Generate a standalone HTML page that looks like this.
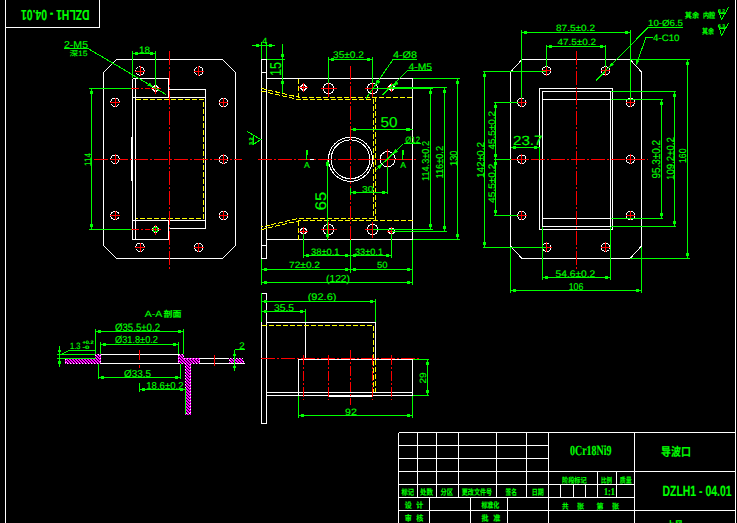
<!DOCTYPE html>
<html><head><meta charset="utf-8"><title>DZLH1-04.01</title>
<style>
html,body{margin:0;padding:0;background:#000;overflow:hidden}
svg{display:block}
text{font-family:"Liberation Sans","Noto Sans CJK SC",sans-serif;stroke:#00ff00;stroke-width:0.12px;text-rendering:geometricPrecision}
</style></head><body>
<svg width="737" height="523" viewBox="0 0 737 523" shape-rendering="crispEdges">
<defs><pattern id="hat" width="3" height="3" patternUnits="userSpaceOnUse"><rect width="3" height="3" fill="#ff00ff"/><path d="M0,0 L3,3 M-1,2 L1,4 M2,-1 L4,1" stroke="#000" stroke-width="0.9"/></pattern></defs>
<rect width="737" height="523" fill="#000"/>
<line x1="5.5" y1="0" x2="5.5" y2="523" stroke="#ffffff" stroke-width="1"/>
<line x1="5.5" y1="27.5" x2="99.5" y2="27.5" stroke="#ffffff" stroke-width="1"/>
<line x1="99.5" y1="0" x2="99.5" y2="27.5" stroke="#ffffff" stroke-width="1"/>
<line x1="735.5" y1="0" x2="735.5" y2="523" stroke="#ffffff" stroke-width="1"/>
<text x="0" y="0" transform="translate(89.5,9.8) rotate(180)" font-size="14.5" fill="#00ff00" textLength="68.5" lengthAdjust="spacingAndGlyphs" font-weight="bold">DZLH1 - 04.01</text>
<polygon points="116.5,59.5 222.5,59.5 235.5,72.5 235.5,245.5 222.5,258.5 116.5,258.5 103.5,245.5 103.5,72.5" fill="none" stroke="#ffffff" stroke-width="1"/>
<circle cx="140" cy="71" r="4.2" fill="none" stroke="#ffffff" stroke-width="1"/>
<line x1="135.2" y1="71" x2="144.8" y2="71" stroke="#ff0000" stroke-width="1"/>
<line x1="140" y1="66.2" x2="140" y2="75.8" stroke="#ff0000" stroke-width="1"/>
<circle cx="198.7" cy="71" r="4.2" fill="none" stroke="#ffffff" stroke-width="1"/>
<line x1="193.89999999999998" y1="71" x2="203.5" y2="71" stroke="#ff0000" stroke-width="1"/>
<line x1="198.7" y1="66.2" x2="198.7" y2="75.8" stroke="#ff0000" stroke-width="1"/>
<circle cx="115" cy="102.3" r="4.2" fill="none" stroke="#ffffff" stroke-width="1"/>
<line x1="110.2" y1="102.3" x2="119.8" y2="102.3" stroke="#ff0000" stroke-width="1"/>
<line x1="115" y1="97.5" x2="115" y2="107.1" stroke="#ff0000" stroke-width="1"/>
<circle cx="223.5" cy="102.3" r="4.2" fill="none" stroke="#ffffff" stroke-width="1"/>
<line x1="218.7" y1="102.3" x2="228.3" y2="102.3" stroke="#ff0000" stroke-width="1"/>
<line x1="223.5" y1="97.5" x2="223.5" y2="107.1" stroke="#ff0000" stroke-width="1"/>
<circle cx="115" cy="159.2" r="4.2" fill="none" stroke="#ffffff" stroke-width="1"/>
<line x1="110.2" y1="159.2" x2="119.8" y2="159.2" stroke="#ff0000" stroke-width="1"/>
<line x1="115" y1="154.39999999999998" x2="115" y2="164.0" stroke="#ff0000" stroke-width="1"/>
<circle cx="223.5" cy="159.2" r="4.2" fill="none" stroke="#ffffff" stroke-width="1"/>
<line x1="218.7" y1="159.2" x2="228.3" y2="159.2" stroke="#ff0000" stroke-width="1"/>
<line x1="223.5" y1="154.39999999999998" x2="223.5" y2="164.0" stroke="#ff0000" stroke-width="1"/>
<circle cx="115" cy="215.5" r="4.2" fill="none" stroke="#ffffff" stroke-width="1"/>
<line x1="110.2" y1="215.5" x2="119.8" y2="215.5" stroke="#ff0000" stroke-width="1"/>
<line x1="115" y1="210.7" x2="115" y2="220.3" stroke="#ff0000" stroke-width="1"/>
<circle cx="223.5" cy="215.5" r="4.2" fill="none" stroke="#ffffff" stroke-width="1"/>
<line x1="218.7" y1="215.5" x2="228.3" y2="215.5" stroke="#ff0000" stroke-width="1"/>
<line x1="223.5" y1="210.7" x2="223.5" y2="220.3" stroke="#ff0000" stroke-width="1"/>
<circle cx="140" cy="247.3" r="4.2" fill="none" stroke="#ffffff" stroke-width="1"/>
<line x1="135.2" y1="247.3" x2="144.8" y2="247.3" stroke="#ff0000" stroke-width="1"/>
<line x1="140" y1="242.5" x2="140" y2="252.10000000000002" stroke="#ff0000" stroke-width="1"/>
<circle cx="198.7" cy="247.3" r="4.2" fill="none" stroke="#ffffff" stroke-width="1"/>
<line x1="193.89999999999998" y1="247.3" x2="203.5" y2="247.3" stroke="#ff0000" stroke-width="1"/>
<line x1="198.7" y1="242.5" x2="198.7" y2="252.10000000000002" stroke="#ff0000" stroke-width="1"/>
<polyline points="132.5,78.5 168.5,78.5 168.5,97.5" fill="none" stroke="#ffffff" stroke-width="1"/>
<line x1="132.5" y1="78.5" x2="132.5" y2="239.5" stroke="#ffffff" stroke-width="1"/>
<line x1="135.5" y1="78.5" x2="135.5" y2="239.5" stroke="#ffffff" stroke-width="1"/>
<line x1="132.5" y1="97.5" x2="205.5" y2="97.5" stroke="#ffffff" stroke-width="1"/>
<polyline points="168.5,89.5 205.5,89.5 205.5,228.5 168.5,228.5" fill="none" stroke="#ffffff" stroke-width="1"/>
<line x1="132.5" y1="220.5" x2="205.5" y2="220.5" stroke="#ffffff" stroke-width="1"/>
<polyline points="168.5,220.5 168.5,239.5 132.5,239.5" fill="none" stroke="#ffffff" stroke-width="1"/>
<line x1="131.5" y1="137" x2="131.5" y2="181" stroke="#ffffff" stroke-width="1"/>
<polyline points="136,99.5 203.5,99.5 203.5,218.5 136,218.5" fill="none" stroke="#ffff00" stroke-width="1" stroke-dasharray="5 2"/>
<circle cx="155.5" cy="88.5" r="2.8" fill="none" stroke="#ffffff" stroke-width="1"/>
<line x1="150.5" y1="88.5" x2="160.5" y2="88.5" stroke="#ff0000" stroke-width="1"/>
<line x1="155.5" y1="83.5" x2="155.5" y2="93.5" stroke="#ff0000" stroke-width="1"/>
<line x1="131" y1="88.5" x2="150" y2="88.5" stroke="#ff0000" stroke-width="1" stroke-dasharray="8 2 2 2"/>
<circle cx="155.5" cy="229.5" r="2.8" fill="none" stroke="#ffffff" stroke-width="1"/>
<line x1="150.5" y1="229.5" x2="160.5" y2="229.5" stroke="#ff0000" stroke-width="1"/>
<line x1="155.5" y1="224.5" x2="155.5" y2="234.5" stroke="#ff0000" stroke-width="1"/>
<line x1="131" y1="229.5" x2="150" y2="229.5" stroke="#ff0000" stroke-width="1" stroke-dasharray="8 2 2 2"/>
<circle cx="155.5" cy="229.5" r="2.2" fill="none" stroke="#00ff00" stroke-width="1"/>
<line x1="169.5" y1="51" x2="169.5" y2="269.5" stroke="#ff0000" stroke-width="1" stroke-dasharray="14 2 2 2"/>
<line x1="94" y1="159.5" x2="241.5" y2="159.5" stroke="#ff0000" stroke-width="1" stroke-dasharray="14 2 2 2"/>
<line x1="89" y1="88.5" x2="131" y2="88.5" stroke="#00ff00" stroke-width="1"/>
<line x1="89" y1="229.5" x2="131" y2="229.5" stroke="#00ff00" stroke-width="1"/>
<line x1="91.5" y1="88.5" x2="91.5" y2="229.5" stroke="#00ff00" stroke-width="1"/>
<rect x="90" y="91" width="3" height="3" fill="#00ff00" stroke="none"/>
<rect x="90" y="224" width="3" height="3" fill="#00ff00" stroke="none"/>
<text x="0" y="0" transform="translate(90.5,166) rotate(-90)" font-size="9.3" fill="#00ff00" textLength="13" lengthAdjust="spacingAndGlyphs">114</text>
<line x1="132.5" y1="51" x2="132.5" y2="78" stroke="#00ff00" stroke-width="1"/>
<line x1="155.5" y1="51" x2="155.5" y2="86" stroke="#00ff00" stroke-width="1"/>
<line x1="132.5" y1="53.5" x2="155.5" y2="53.5" stroke="#00ff00" stroke-width="1"/>
<rect x="135" y="52" width="3" height="3" fill="#00ff00" stroke="none"/>
<rect x="150" y="52" width="3" height="3" fill="#00ff00" stroke="none"/>
<text x="139" y="52.5" font-size="9.3" fill="#00ff00" textLength="11" lengthAdjust="spacingAndGlyphs">18</text>
<text x="64" y="48" font-size="10.0" fill="#00ff00" textLength="24" lengthAdjust="spacingAndGlyphs">2-M5</text>
<line x1="64" y1="48.5" x2="88" y2="48.5" stroke="#00ff00" stroke-width="1"/>
<text x="69.5" y="56" font-size="7.5" fill="#00ff00" textLength="18" lengthAdjust="spacingAndGlyphs" stroke-width="0.4">深15</text>
<line x1="88" y1="48.5" x2="166" y2="94.5" stroke="#00ff00" stroke-width="1"/>
<polygon points="153.0,86.8 147.9,85.6 149.5,82.9" fill="#00ff00" stroke="#00ff00" stroke-width="0.6"/>
<polygon points="261.5,59.5 266.5,59.5 266.5,258.5 261.5,258.5" fill="none" stroke="#ffffff" stroke-width="1"/>
<line x1="261.5" y1="72.5" x2="266.5" y2="72.5" stroke="#ffffff" stroke-width="1"/>
<line x1="261.5" y1="245.5" x2="266.5" y2="245.5" stroke="#ffffff" stroke-width="1"/>
<polyline points="266.5,78.5 412.5,78.5 412.5,239.5 266.5,239.5" fill="none" stroke="#ffffff" stroke-width="1"/>
<circle cx="328.5" cy="88.5" r="5.2" fill="none" stroke="#ffffff" stroke-width="1"/>
<line x1="320.5" y1="88.5" x2="336.5" y2="88.5" stroke="#ff0000" stroke-width="1"/>
<line x1="328.5" y1="80.5" x2="328.5" y2="96.5" stroke="#ff0000" stroke-width="1"/>
<circle cx="372.5" cy="88.5" r="5.2" fill="none" stroke="#ffffff" stroke-width="1"/>
<line x1="364.5" y1="88.5" x2="380.5" y2="88.5" stroke="#ff0000" stroke-width="1"/>
<line x1="372.5" y1="80.5" x2="372.5" y2="96.5" stroke="#ff0000" stroke-width="1"/>
<circle cx="328.5" cy="229.5" r="5.2" fill="none" stroke="#ffffff" stroke-width="1"/>
<line x1="320.5" y1="229.5" x2="336.5" y2="229.5" stroke="#ff0000" stroke-width="1"/>
<line x1="328.5" y1="221.5" x2="328.5" y2="237.5" stroke="#ff0000" stroke-width="1"/>
<circle cx="372.5" cy="229.5" r="5.2" fill="none" stroke="#ffffff" stroke-width="1"/>
<line x1="364.5" y1="229.5" x2="380.5" y2="229.5" stroke="#ff0000" stroke-width="1"/>
<line x1="372.5" y1="221.5" x2="372.5" y2="237.5" stroke="#ff0000" stroke-width="1"/>
<circle cx="303.5" cy="87.5" r="2.8" fill="none" stroke="#ffffff" stroke-width="1"/>
<line x1="299.0" y1="87.5" x2="308.0" y2="87.5" stroke="#ff0000" stroke-width="1"/>
<line x1="303.5" y1="83.0" x2="303.5" y2="92.0" stroke="#ff0000" stroke-width="1"/>
<circle cx="391.5" cy="87.5" r="2.8" fill="none" stroke="#ffffff" stroke-width="1"/>
<line x1="387.0" y1="87.5" x2="396.0" y2="87.5" stroke="#ff0000" stroke-width="1"/>
<line x1="391.5" y1="83.0" x2="391.5" y2="92.0" stroke="#ff0000" stroke-width="1"/>
<circle cx="303.5" cy="231" r="2.8" fill="none" stroke="#ffffff" stroke-width="1"/>
<line x1="299.0" y1="231" x2="308.0" y2="231" stroke="#ff0000" stroke-width="1"/>
<line x1="303.5" y1="226.5" x2="303.5" y2="235.5" stroke="#ff0000" stroke-width="1"/>
<circle cx="391.5" cy="231" r="2.8" fill="none" stroke="#ffffff" stroke-width="1"/>
<line x1="387.0" y1="231" x2="396.0" y2="231" stroke="#ff0000" stroke-width="1"/>
<line x1="391.5" y1="226.5" x2="391.5" y2="235.5" stroke="#ff0000" stroke-width="1"/>
<path d="M261.5,88.5 Q285,94 299,97.3 L412.5,97.3" fill="none" stroke="#ffff00" stroke-width="1" stroke-dasharray="5 2"/>
<path d="M261.5,91 Q285,96.5 299,99.7 L373.3,99.7 L373.3,218.3 L299,218.3 Q285,221.5 261.5,227" fill="none" stroke="#ffff00" stroke-width="1" stroke-dasharray="5 2"/>
<path d="M261.5,229.5 Q285,224 299,220.8 L412.5,220.8" fill="none" stroke="#ffff00" stroke-width="1" stroke-dasharray="5 2"/>
<line x1="375.8" y1="97.3" x2="375.8" y2="220.8" stroke="#ffff00" stroke-width="1" stroke-dasharray="5 2"/>
<line x1="298.5" y1="78.5" x2="298.5" y2="97" stroke="#ffff00" stroke-width="1" stroke-dasharray="5 2"/>
<line x1="298.5" y1="220.5" x2="298.5" y2="239.5" stroke="#ffff00" stroke-width="1" stroke-dasharray="5 2"/>
<circle cx="350.5" cy="159.3" r="22" fill="none" stroke="#ffffff" stroke-width="1"/>
<circle cx="350.5" cy="159.3" r="19.4" fill="none" stroke="#ffffff" stroke-width="1"/>
<circle cx="387.6" cy="159.2" r="7.6" fill="none" stroke="#ffffff" stroke-width="1"/>
<line x1="377" y1="159.5" x2="398" y2="159.5" stroke="#ff0000" stroke-width="1"/>
<line x1="387.5" y1="149" x2="387.5" y2="170" stroke="#ff0000" stroke-width="1"/>
<line x1="258" y1="159.5" x2="417" y2="159.5" stroke="#ff0000" stroke-width="1" stroke-dasharray="14 2 2 2"/>
<line x1="350.5" y1="66" x2="350.5" y2="262" stroke="#ff0000" stroke-width="1" stroke-dasharray="14 2 2 2"/>
<line x1="306.5" y1="150.5" x2="306.5" y2="159.5" stroke="#00ff00" stroke-width="1"/>
<rect x="306" y="150" width="2" height="5" fill="#00ff00" stroke="none"/>
<text x="304" y="167.6" font-size="8.7" fill="#00ff00">A</text>
<line x1="309.5" y1="159.5" x2="313.5" y2="159.5" stroke="#ffffff" stroke-width="1"/>
<line x1="402.5" y1="150.5" x2="402.5" y2="159.5" stroke="#00ff00" stroke-width="1"/>
<rect x="402" y="150" width="2" height="5" fill="#00ff00" stroke="none"/>
<text x="400.3" y="167.6" font-size="8.7" fill="#00ff00">A</text>
<line x1="252" y1="45.5" x2="275" y2="45.5" stroke="#00ff00" stroke-width="1"/>
<line x1="261.5" y1="41.5" x2="261.5" y2="59" stroke="#00ff00" stroke-width="1"/>
<line x1="266.5" y1="41.5" x2="266.5" y2="59" stroke="#00ff00" stroke-width="1"/>
<rect x="256" y="44" width="3" height="3" fill="#00ff00" stroke="none"/>
<rect x="269" y="44" width="3" height="3" fill="#00ff00" stroke="none"/>
<text x="262.2" y="44.2" font-size="8.9" fill="#00ff00">4</text>
<line x1="282.5" y1="43.5" x2="282.5" y2="93" stroke="#00ff00" stroke-width="1"/>
<line x1="267" y1="59.5" x2="285" y2="59.5" stroke="#00ff00" stroke-width="1"/>
<rect x="281" y="54" width="3" height="3" fill="#00ff00" stroke="none"/>
<rect x="281" y="81" width="3" height="3" fill="#00ff00" stroke="none"/>
<text x="0" y="0" transform="translate(281,76) rotate(-90)" font-size="15.7" fill="#00ff00" textLength="14" lengthAdjust="spacingAndGlyphs">15</text>
<line x1="328.5" y1="57" x2="328.5" y2="83" stroke="#00ff00" stroke-width="1"/>
<line x1="372.5" y1="57" x2="372.5" y2="83" stroke="#00ff00" stroke-width="1"/>
<line x1="328.5" y1="59.5" x2="372.5" y2="59.5" stroke="#00ff00" stroke-width="1"/>
<rect x="331" y="58" width="3" height="3" fill="#00ff00" stroke="none"/>
<rect x="367" y="58" width="3" height="3" fill="#00ff00" stroke="none"/>
<text x="333" y="58" font-size="9.7" fill="#00ff00" textLength="31" lengthAdjust="spacingAndGlyphs">35±0.2</text>
<text x="393" y="58" font-size="9.7" fill="#00ff00" textLength="24" lengthAdjust="spacingAndGlyphs">4-Ø8</text>
<line x1="393" y1="59.5" x2="417" y2="59.5" stroke="#00ff00" stroke-width="1"/>
<line x1="393" y1="59.5" x2="366" y2="98.5" stroke="#00ff00" stroke-width="1"/>
<polygon points="375.5,84.8 377.0,79.8 379.7,81.6" fill="#00ff00" stroke="#00ff00" stroke-width="0.6"/>
<text x="408.5" y="69.5" font-size="9.3" fill="#00ff00" textLength="23.5" lengthAdjust="spacingAndGlyphs">4-M5</text>
<line x1="407.5" y1="70.5" x2="432" y2="70.5" stroke="#00ff00" stroke-width="1"/>
<line x1="407.5" y1="70.5" x2="382.5" y2="95" stroke="#00ff00" stroke-width="1"/>
<polygon points="393.5,85.6 396.0,81.0 398.2,83.3" fill="#00ff00" stroke="#00ff00" stroke-width="0.6"/>
<text x="380.5" y="127.4" font-size="14.3" fill="#00ff00" textLength="17.0" lengthAdjust="spacingAndGlyphs">50</text>
<line x1="350.5" y1="129.5" x2="412.5" y2="129.5" stroke="#00ff00" stroke-width="1"/>
<rect x="353" y="128" width="3" height="3" fill="#00ff00" stroke="none"/>
<rect x="406" y="128" width="4" height="3" fill="#00ff00" stroke="none"/>
<line x1="376.5" y1="169.5" x2="403.5" y2="143.5" stroke="#00ff00" stroke-width="1"/>
<line x1="403.5" y1="143.5" x2="420.5" y2="143.5" stroke="#00ff00" stroke-width="1"/>
<text x="405.3" y="142.6" font-size="9.1" fill="#00ff00" textLength="14.7" lengthAdjust="spacingAndGlyphs">Ø12</text>
<polygon points="392.9,153.9 395.4,149.3 397.6,151.6" fill="#00ff00" stroke="#00ff00" stroke-width="0.6"/>
<polygon points="382.3,163.9 379.8,168.5 377.6,166.2" fill="#00ff00" stroke="#00ff00" stroke-width="0.6"/>
<line x1="327.5" y1="159.5" x2="327.5" y2="239.5" stroke="#00ff00" stroke-width="1"/>
<rect x="326" y="162" width="3" height="4" fill="#00ff00" stroke="none"/>
<rect x="326" y="234" width="3" height="3" fill="#00ff00" stroke="none"/>
<text x="0" y="0" transform="translate(326,210.2) rotate(-90)" font-size="15.3" fill="#00ff00" textLength="18.2" lengthAdjust="spacingAndGlyphs">65</text>
<line x1="350.5" y1="192.5" x2="387.5" y2="192.5" stroke="#00ff00" stroke-width="1"/>
<line x1="387.5" y1="167" x2="387.5" y2="194" stroke="#00ff00" stroke-width="1"/>
<line x1="350.5" y1="187.5" x2="350.5" y2="195" stroke="#00ff00" stroke-width="1"/>
<rect x="353" y="191" width="3" height="3" fill="#00ff00" stroke="none"/>
<rect x="382" y="191" width="3" height="3" fill="#00ff00" stroke="none"/>
<text x="362" y="191.6" font-size="8.6" fill="#00ff00" textLength="11.4" lengthAdjust="spacingAndGlyphs">30</text>
<line x1="372.5" y1="88.5" x2="432.5" y2="88.5" stroke="#00ff00" stroke-width="1"/>
<line x1="372.5" y1="229.5" x2="432.5" y2="229.5" stroke="#00ff00" stroke-width="1"/>
<line x1="430.5" y1="88.5" x2="430.5" y2="229.5" stroke="#00ff00" stroke-width="1"/>
<rect x="429" y="91" width="3" height="3" fill="#00ff00" stroke="none"/>
<rect x="429" y="224" width="3" height="3" fill="#00ff00" stroke="none"/>
<text x="0" y="0" transform="translate(429,181) rotate(-90)" font-size="10.0" fill="#00ff00" textLength="40" lengthAdjust="spacingAndGlyphs">114.3±0.2</text>
<line x1="391.5" y1="87.5" x2="447" y2="87.5" stroke="#00ff00" stroke-width="1"/>
<line x1="391.5" y1="231.5" x2="447" y2="231.5" stroke="#00ff00" stroke-width="1"/>
<line x1="444.5" y1="87.5" x2="444.5" y2="231.5" stroke="#00ff00" stroke-width="1"/>
<rect x="443" y="90" width="3" height="3" fill="#00ff00" stroke="none"/>
<rect x="443" y="226" width="3" height="3" fill="#00ff00" stroke="none"/>
<text x="0" y="0" transform="translate(443,178.5) rotate(-90)" font-size="10.0" fill="#00ff00" textLength="32.5" lengthAdjust="spacingAndGlyphs">116±0.2</text>
<line x1="413" y1="78.5" x2="460" y2="78.5" stroke="#00ff00" stroke-width="1"/>
<line x1="413" y1="239.5" x2="460" y2="239.5" stroke="#00ff00" stroke-width="1"/>
<line x1="457.5" y1="78.5" x2="457.5" y2="239.5" stroke="#00ff00" stroke-width="1"/>
<rect x="456" y="81" width="3" height="3" fill="#00ff00" stroke="none"/>
<rect x="456" y="234" width="3" height="3" fill="#00ff00" stroke="none"/>
<text x="0" y="0" transform="translate(457,166) rotate(-90)" font-size="10.0" fill="#00ff00" textLength="15.5" lengthAdjust="spacingAndGlyphs">130</text>
<line x1="303.5" y1="234" x2="303.5" y2="257.5" stroke="#00ff00" stroke-width="1"/>
<line x1="391.5" y1="234" x2="391.5" y2="257.5" stroke="#00ff00" stroke-width="1"/>
<line x1="350.5" y1="239.5" x2="350.5" y2="272.5" stroke="#00ff00" stroke-width="1"/>
<line x1="303.5" y1="255.5" x2="391.5" y2="255.5" stroke="#00ff00" stroke-width="1"/>
<rect x="306" y="254" width="3" height="3" fill="#00ff00" stroke="none"/>
<rect x="345" y="254" width="3" height="3" fill="#00ff00" stroke="none"/>
<rect x="353" y="254" width="3" height="3" fill="#00ff00" stroke="none"/>
<rect x="386" y="254" width="3" height="3" fill="#00ff00" stroke="none"/>
<text x="311" y="254.8" font-size="9.4" fill="#00ff00" textLength="28.5" lengthAdjust="spacingAndGlyphs">38±0.1</text>
<text x="355" y="254.8" font-size="9.4" fill="#00ff00" textLength="28" lengthAdjust="spacingAndGlyphs">33±0.1</text>
<line x1="261.5" y1="258.5" x2="261.5" y2="284.5" stroke="#00ff00" stroke-width="1"/>
<line x1="412.5" y1="239.5" x2="412.5" y2="284.5" stroke="#00ff00" stroke-width="1"/>
<line x1="261.5" y1="269.5" x2="412.5" y2="269.5" stroke="#00ff00" stroke-width="1"/>
<line x1="261.5" y1="282.5" x2="412.5" y2="282.5" stroke="#00ff00" stroke-width="1"/>
<rect x="264" y="268" width="3" height="3" fill="#00ff00" stroke="none"/>
<rect x="345" y="268" width="3" height="3" fill="#00ff00" stroke="none"/>
<rect x="353" y="268" width="3" height="3" fill="#00ff00" stroke="none"/>
<rect x="407" y="268" width="3" height="3" fill="#00ff00" stroke="none"/>
<rect x="264" y="281" width="3" height="3" fill="#00ff00" stroke="none"/>
<rect x="407" y="281" width="3" height="3" fill="#00ff00" stroke="none"/>
<text x="289" y="268.4" font-size="9.1" fill="#00ff00" textLength="31" lengthAdjust="spacingAndGlyphs">72±0.2</text>
<text x="377" y="268.4" font-size="9.1" fill="#00ff00" textLength="10.5" lengthAdjust="spacingAndGlyphs">50</text>
<text x="326" y="281.6" font-size="10.1" fill="#00ff00" textLength="24" lengthAdjust="spacingAndGlyphs">(122)</text>
<polyline points="247,131.5 261,139.5 254,144" fill="none" stroke="#00ff00" stroke-width="1"/>
<line x1="253.5" y1="134.5" x2="253.5" y2="144.5" stroke="#00ff00" stroke-width="1"/>
<text x="0" y="0" transform="translate(252.8,145) rotate(-90)" font-size="5.5" fill="#00ff00" font-weight="bold">3.2</text>
<polygon points="522.0,59.5 630.0,59.5 641.5,72.0 641.5,246.0 630.0,258.5 522.0,258.5 510.5,246.0 510.5,72.0" fill="none" stroke="#ffffff" stroke-width="1"/>
<circle cx="546.5" cy="70.8" r="4.2" fill="none" stroke="#ffffff" stroke-width="1"/>
<line x1="541.7" y1="70.8" x2="551.3" y2="70.8" stroke="#ff0000" stroke-width="1"/>
<line x1="546.5" y1="66.0" x2="546.5" y2="75.6" stroke="#ff0000" stroke-width="1"/>
<circle cx="605.5" cy="70.8" r="4.2" fill="none" stroke="#ffffff" stroke-width="1"/>
<line x1="600.7" y1="70.8" x2="610.3" y2="70.8" stroke="#ff0000" stroke-width="1"/>
<line x1="605.5" y1="66.0" x2="605.5" y2="75.6" stroke="#ff0000" stroke-width="1"/>
<circle cx="521.8" cy="102.3" r="4.2" fill="none" stroke="#ffffff" stroke-width="1"/>
<line x1="517.0" y1="102.3" x2="526.5999999999999" y2="102.3" stroke="#ff0000" stroke-width="1"/>
<line x1="521.8" y1="97.5" x2="521.8" y2="107.1" stroke="#ff0000" stroke-width="1"/>
<circle cx="630.4" cy="102.3" r="4.2" fill="none" stroke="#ffffff" stroke-width="1"/>
<line x1="625.6" y1="102.3" x2="635.1999999999999" y2="102.3" stroke="#ff0000" stroke-width="1"/>
<line x1="630.4" y1="97.5" x2="630.4" y2="107.1" stroke="#ff0000" stroke-width="1"/>
<circle cx="521.8" cy="159.2" r="4.2" fill="none" stroke="#ffffff" stroke-width="1"/>
<line x1="517.0" y1="159.2" x2="526.5999999999999" y2="159.2" stroke="#ff0000" stroke-width="1"/>
<line x1="521.8" y1="154.39999999999998" x2="521.8" y2="164.0" stroke="#ff0000" stroke-width="1"/>
<circle cx="630.4" cy="159.2" r="4.2" fill="none" stroke="#ffffff" stroke-width="1"/>
<line x1="625.6" y1="159.2" x2="635.1999999999999" y2="159.2" stroke="#ff0000" stroke-width="1"/>
<line x1="630.4" y1="154.39999999999998" x2="630.4" y2="164.0" stroke="#ff0000" stroke-width="1"/>
<circle cx="521.8" cy="215.5" r="4.2" fill="none" stroke="#ffffff" stroke-width="1"/>
<line x1="517.0" y1="215.5" x2="526.5999999999999" y2="215.5" stroke="#ff0000" stroke-width="1"/>
<line x1="521.8" y1="210.7" x2="521.8" y2="220.3" stroke="#ff0000" stroke-width="1"/>
<circle cx="630.4" cy="215.5" r="4.2" fill="none" stroke="#ffffff" stroke-width="1"/>
<line x1="625.6" y1="215.5" x2="635.1999999999999" y2="215.5" stroke="#ff0000" stroke-width="1"/>
<line x1="630.4" y1="210.7" x2="630.4" y2="220.3" stroke="#ff0000" stroke-width="1"/>
<circle cx="546.7" cy="247.2" r="4.2" fill="none" stroke="#ffffff" stroke-width="1"/>
<line x1="541.9000000000001" y1="247.2" x2="551.5" y2="247.2" stroke="#ff0000" stroke-width="1"/>
<line x1="546.7" y1="242.39999999999998" x2="546.7" y2="252.0" stroke="#ff0000" stroke-width="1"/>
<circle cx="605.5" cy="247.2" r="4.2" fill="none" stroke="#ffffff" stroke-width="1"/>
<line x1="600.7" y1="247.2" x2="610.3" y2="247.2" stroke="#ff0000" stroke-width="1"/>
<line x1="605.5" y1="242.39999999999998" x2="605.5" y2="252.0" stroke="#ff0000" stroke-width="1"/>
<polygon points="539.5,88.5 612.5,88.5 612.5,229.5 539.5,229.5" fill="none" stroke="#ffffff" stroke-width="1"/>
<polygon points="542.5,91.5 610.5,91.5 610.5,226.5 542.5,226.5" fill="none" stroke="#ffffff" stroke-width="1"/>
<line x1="542.5" y1="99.5" x2="610.5" y2="99.5" stroke="#ffffff" stroke-width="1"/>
<line x1="542.5" y1="218.5" x2="610.5" y2="218.5" stroke="#ffffff" stroke-width="1"/>
<line x1="576.5" y1="51" x2="576.5" y2="269.5" stroke="#ff0000" stroke-width="1" stroke-dasharray="14 2 2 2"/>
<line x1="510.5" y1="159.5" x2="648" y2="159.5" stroke="#ff0000" stroke-width="1" stroke-dasharray="14 2 2 2"/>
<line x1="521.5" y1="30" x2="521.5" y2="98" stroke="#00ff00" stroke-width="1"/>
<line x1="630.5" y1="30" x2="630.5" y2="98" stroke="#00ff00" stroke-width="1"/>
<line x1="521.5" y1="32.5" x2="630.5" y2="32.5" stroke="#00ff00" stroke-width="1"/>
<rect x="524" y="31" width="3" height="3" fill="#00ff00" stroke="none"/>
<rect x="625" y="31" width="3" height="3" fill="#00ff00" stroke="none"/>
<text x="556" y="31.4" font-size="9.1" fill="#00ff00" textLength="39" lengthAdjust="spacingAndGlyphs">87.5±0.2</text>
<line x1="546.5" y1="44.5" x2="546.5" y2="67" stroke="#00ff00" stroke-width="1"/>
<line x1="605.5" y1="44.5" x2="605.5" y2="67" stroke="#00ff00" stroke-width="1"/>
<line x1="546.5" y1="46.5" x2="605.5" y2="46.5" stroke="#00ff00" stroke-width="1"/>
<rect x="549" y="45" width="3" height="3" fill="#00ff00" stroke="none"/>
<rect x="600" y="45" width="3" height="3" fill="#00ff00" stroke="none"/>
<text x="557.5" y="45.4" font-size="9.1" fill="#00ff00" textLength="38.5" lengthAdjust="spacingAndGlyphs">47.5±0.2</text>
<text x="648" y="26.3" font-size="9.0" fill="#00ff00" textLength="35" lengthAdjust="spacingAndGlyphs">10-Ø6.5</text>
<line x1="648" y1="27.5" x2="683" y2="27.5" stroke="#00ff00" stroke-width="1"/>
<line x1="648" y1="27.5" x2="596" y2="80.5" stroke="#00ff00" stroke-width="1"/>
<polygon points="609.0,67.2 611.4,62.5 613.6,64.8" fill="#00ff00" stroke="#00ff00" stroke-width="0.6"/>
<text x="653" y="40.5" font-size="9.3" fill="#00ff00" textLength="26.5" lengthAdjust="spacingAndGlyphs">4-C10</text>
<line x1="646" y1="37.5" x2="653" y2="37.5" stroke="#00ff00" stroke-width="1"/>
<line x1="646" y1="37.5" x2="636" y2="65" stroke="#00ff00" stroke-width="1"/>
<polygon points="636.0,65.0 636.2,59.8 639.2,60.8" fill="#00ff00" stroke="#00ff00" stroke-width="0.6"/>
<line x1="483" y1="71.5" x2="546" y2="71.5" stroke="#00ff00" stroke-width="1"/>
<line x1="483" y1="247.5" x2="546" y2="247.5" stroke="#00ff00" stroke-width="1"/>
<line x1="484.5" y1="71.5" x2="484.5" y2="247.5" stroke="#00ff00" stroke-width="1"/>
<rect x="483" y="74" width="3" height="3" fill="#00ff00" stroke="none"/>
<rect x="483" y="242" width="3" height="3" fill="#00ff00" stroke="none"/>
<text x="0" y="0" transform="translate(484,178) rotate(-90)" font-size="10.0" fill="#00ff00" textLength="36" lengthAdjust="spacingAndGlyphs">142±0.2</text>
<line x1="493.5" y1="102.5" x2="517.5" y2="102.5" stroke="#00ff00" stroke-width="1"/>
<line x1="493.5" y1="159.5" x2="510.5" y2="159.5" stroke="#00ff00" stroke-width="1"/>
<line x1="493.5" y1="215.5" x2="517.5" y2="215.5" stroke="#00ff00" stroke-width="1"/>
<line x1="495.5" y1="102.5" x2="495.5" y2="215.5" stroke="#00ff00" stroke-width="1"/>
<rect x="494" y="105" width="3" height="3" fill="#00ff00" stroke="none"/>
<rect x="494" y="154" width="3" height="3" fill="#00ff00" stroke="none"/>
<rect x="494" y="162" width="3" height="3" fill="#00ff00" stroke="none"/>
<rect x="494" y="210" width="3" height="3" fill="#00ff00" stroke="none"/>
<text x="0" y="0" transform="translate(494.6,149.5) rotate(-90)" font-size="9.4" fill="#00ff00" textLength="38.5" lengthAdjust="spacingAndGlyphs">45.5±0.2</text>
<text x="0" y="0" transform="translate(494.6,203) rotate(-90)" font-size="9.4" fill="#00ff00" textLength="39.5" lengthAdjust="spacingAndGlyphs">45.5±0.2</text>
<line x1="510.5" y1="147.5" x2="539.5" y2="147.5" stroke="#00ff00" stroke-width="1"/>
<line x1="539.5" y1="147" x2="539.5" y2="159.5" stroke="#00ff00" stroke-width="1"/>
<rect x="513" y="146" width="3" height="3" fill="#00ff00" stroke="none"/>
<rect x="534" y="146" width="3" height="3" fill="#00ff00" stroke="none"/>
<text x="513" y="144.8" font-size="13.3" fill="#00ff00" textLength="29.5" lengthAdjust="spacingAndGlyphs">23.7</text>
<line x1="610.5" y1="99.5" x2="663" y2="99.5" stroke="#00ff00" stroke-width="1"/>
<line x1="610.5" y1="218.5" x2="663" y2="218.5" stroke="#00ff00" stroke-width="1"/>
<line x1="661.5" y1="99.5" x2="661.5" y2="218.5" stroke="#00ff00" stroke-width="1"/>
<rect x="660" y="102" width="3" height="3" fill="#00ff00" stroke="none"/>
<rect x="660" y="213" width="3" height="3" fill="#00ff00" stroke="none"/>
<text x="0" y="0" transform="translate(660,178.5) rotate(-90)" font-size="11.4" fill="#00ff00" textLength="38.5" lengthAdjust="spacingAndGlyphs">95.3±0.2</text>
<line x1="610.5" y1="91.5" x2="676" y2="91.5" stroke="#00ff00" stroke-width="1"/>
<line x1="610.5" y1="226.5" x2="676" y2="226.5" stroke="#00ff00" stroke-width="1"/>
<line x1="674.5" y1="91.5" x2="674.5" y2="226.5" stroke="#00ff00" stroke-width="1"/>
<rect x="673" y="94" width="3" height="3" fill="#00ff00" stroke="none"/>
<rect x="673" y="221" width="3" height="3" fill="#00ff00" stroke="none"/>
<text x="0" y="0" transform="translate(673.8,180) rotate(-90)" font-size="10.4" fill="#00ff00" textLength="43" lengthAdjust="spacingAndGlyphs">109.2±0.2</text>
<line x1="630" y1="59.5" x2="689.5" y2="59.5" stroke="#00ff00" stroke-width="1"/>
<line x1="630" y1="258.5" x2="689.5" y2="258.5" stroke="#00ff00" stroke-width="1"/>
<line x1="687.5" y1="59.5" x2="687.5" y2="258.5" stroke="#00ff00" stroke-width="1"/>
<rect x="686" y="62" width="3" height="3" fill="#00ff00" stroke="none"/>
<rect x="686" y="253" width="3" height="3" fill="#00ff00" stroke="none"/>
<text x="0" y="0" transform="translate(686,163) rotate(-90)" font-size="10.0" fill="#00ff00" textLength="14.5" lengthAdjust="spacingAndGlyphs">160</text>
<line x1="542.5" y1="226.5" x2="542.5" y2="279.5" stroke="#00ff00" stroke-width="1"/>
<line x1="610.5" y1="226.5" x2="610.5" y2="279.5" stroke="#00ff00" stroke-width="1"/>
<line x1="542.5" y1="277.5" x2="610.5" y2="277.5" stroke="#00ff00" stroke-width="1"/>
<rect x="545" y="276" width="3" height="3" fill="#00ff00" stroke="none"/>
<rect x="605" y="276" width="3" height="3" fill="#00ff00" stroke="none"/>
<text x="555.6" y="276.5" font-size="9.6" fill="#00ff00" textLength="39.7" lengthAdjust="spacingAndGlyphs">54.6±0.2</text>
<line x1="510.5" y1="247" x2="510.5" y2="292.5" stroke="#00ff00" stroke-width="1"/>
<line x1="641.5" y1="247" x2="641.5" y2="292.5" stroke="#00ff00" stroke-width="1"/>
<line x1="510.5" y1="290.5" x2="641.5" y2="290.5" stroke="#00ff00" stroke-width="1"/>
<rect x="513" y="289" width="3" height="3" fill="#00ff00" stroke="none"/>
<rect x="636" y="289" width="3" height="3" fill="#00ff00" stroke="none"/>
<text x="568.7" y="289.8" font-size="10.0" fill="#00ff00" textLength="14.6" lengthAdjust="spacingAndGlyphs">106</text>
<text x="684.8" y="18.3" font-size="7.5" fill="#00ff00" textLength="14.4" lengthAdjust="spacingAndGlyphs" font-weight="bold" stroke-width="0.4">其余</text>
<text x="702.9" y="18.3" font-size="7.5" fill="#00ff00" textLength="12.3" lengthAdjust="spacingAndGlyphs" font-weight="bold" stroke-width="0.4">内腔</text>
<polyline points="718.5,10 721.5,19.5 728.5,7.5" fill="none" stroke="#00ff00" stroke-width="1"/>
<line x1="718.5" y1="13.5" x2="725.5" y2="13.5" stroke="#00ff00" stroke-width="1"/>
<text x="718" y="12.8" font-size="5.5" fill="#00ff00" textLength="7" lengthAdjust="spacingAndGlyphs" font-weight="bold">3.2</text>
<text x="702" y="33.5" font-size="7.5" fill="#00ff00" textLength="12" lengthAdjust="spacingAndGlyphs" font-weight="bold" stroke-width="0.4">其余</text>
<polyline points="718.5,25 721.5,35.5 728.5,23" fill="none" stroke="#00ff00" stroke-width="1"/>
<line x1="718.5" y1="28.5" x2="725.5" y2="28.5" stroke="#00ff00" stroke-width="1"/>
<text x="718" y="28" font-size="5.5" fill="#00ff00" textLength="7" lengthAdjust="spacingAndGlyphs" font-weight="bold">6.3</text>
<text x="144.8" y="316.6" font-size="9" fill="#00ff00" textLength="17.5" lengthAdjust="spacingAndGlyphs">A-A</text>
<text x="163.5" y="316.8" font-size="8.5" fill="#00ff00" textLength="18" lengthAdjust="spacingAndGlyphs" font-weight="bold" stroke-width="0.4">剖面</text>
<rect x="65" y="358" width="31" height="6" fill="url(#hat)"/>
<rect x="95" y="354" width="6" height="10" fill="url(#hat)"/>
<rect x="178" y="354" width="6" height="10" fill="url(#hat)"/>
<rect x="184" y="358" width="16" height="6" fill="url(#hat)"/>
<rect x="185" y="364" width="6" height="50.5" fill="url(#hat)"/>
<polygon points="229,358 242,358 245,364 229,364" fill="url(#hat)"/>
<polygon points="65.5,358.5 95.5,358.5 95.5,354.5 100.5,354.5 100.5,363.5 65.5,363.5" fill="none" stroke="#ffffff" stroke-width="1" stroke-dasharray="1 2"/>
<polygon points="178.5,354.5 183.5,354.5 183.5,358.5 199.5,358.5 199.5,363.5 190.5,363.5 190.5,413.5 185.5,413.5 185.5,363.5 178.5,363.5" fill="none" stroke="#ffffff" stroke-width="1" stroke-dasharray="1 2"/>
<polygon points="229.5,358.5 242,358.5 244.5,363.5 229.5,363.5" fill="none" stroke="#ffffff" stroke-width="1" stroke-dasharray="1 2"/>
<line x1="100.5" y1="354.5" x2="178.5" y2="354.5" stroke="#ffffff" stroke-width="1"/>
<line x1="100.5" y1="363.5" x2="178.5" y2="363.5" stroke="#ffffff" stroke-width="1"/>
<line x1="200" y1="358.5" x2="229" y2="358.5" stroke="#ffffff" stroke-width="1"/>
<line x1="200" y1="363.5" x2="245" y2="363.5" stroke="#ffffff" stroke-width="1"/>
<line x1="139.5" y1="350" x2="139.5" y2="359.5" stroke="#ff0000" stroke-width="1"/>
<line x1="139.5" y1="364.5" x2="139.5" y2="368" stroke="#ff0000" stroke-width="1"/>
<line x1="214.5" y1="354.5" x2="214.5" y2="366" stroke="#ff0000" stroke-width="1"/>
<line x1="95.5" y1="328.5" x2="95.5" y2="354" stroke="#00ff00" stroke-width="1"/>
<line x1="183.5" y1="328.5" x2="183.5" y2="354" stroke="#00ff00" stroke-width="1"/>
<line x1="95.5" y1="331.5" x2="183.5" y2="331.5" stroke="#00ff00" stroke-width="1"/>
<rect x="98" y="330" width="3" height="3" fill="#00ff00" stroke="none"/>
<rect x="178" y="330" width="3" height="3" fill="#00ff00" stroke="none"/>
<text x="115" y="330.8" font-size="10.7" fill="#00ff00" textLength="45" lengthAdjust="spacingAndGlyphs">Ø35.5±0.2</text>
<line x1="100.5" y1="342" x2="100.5" y2="354" stroke="#00ff00" stroke-width="1"/>
<line x1="178.5" y1="342" x2="178.5" y2="354" stroke="#00ff00" stroke-width="1"/>
<line x1="100.5" y1="344.5" x2="178.5" y2="344.5" stroke="#00ff00" stroke-width="1"/>
<rect x="103" y="343" width="3" height="3" fill="#00ff00" stroke="none"/>
<rect x="173" y="343" width="3" height="3" fill="#00ff00" stroke="none"/>
<text x="115" y="343" font-size="10.0" fill="#00ff00" textLength="43" lengthAdjust="spacingAndGlyphs">Ø31.8±0.2</text>
<line x1="98.5" y1="364" x2="98.5" y2="379" stroke="#00ff00" stroke-width="1"/>
<line x1="180.5" y1="364" x2="180.5" y2="379" stroke="#00ff00" stroke-width="1"/>
<line x1="98.5" y1="377.5" x2="180.5" y2="377.5" stroke="#00ff00" stroke-width="1"/>
<rect x="101" y="376" width="3" height="3" fill="#00ff00" stroke="none"/>
<rect x="175" y="376" width="3" height="3" fill="#00ff00" stroke="none"/>
<text x="124" y="376.6" font-size="10.0" fill="#00ff00" textLength="27" lengthAdjust="spacingAndGlyphs">Ø33.5</text>
<line x1="139.5" y1="382.5" x2="139.5" y2="391.5" stroke="#00ff00" stroke-width="1"/>
<line x1="139.5" y1="389.5" x2="185" y2="389.5" stroke="#00ff00" stroke-width="1"/>
<line x1="185.5" y1="387.5" x2="185.5" y2="414" stroke="#00ff00" stroke-width="1"/>
<rect x="142" y="388" width="3" height="3" fill="#00ff00" stroke="none"/>
<rect x="180" y="388" width="3" height="3" fill="#00ff00" stroke="none"/>
<text x="146.3" y="389" font-size="10.0" fill="#00ff00" textLength="37.2" lengthAdjust="spacingAndGlyphs">18.6±0.2</text>
<line x1="59.5" y1="346" x2="59.5" y2="366.5" stroke="#00ff00" stroke-width="1"/>
<line x1="57" y1="354.5" x2="95" y2="354.5" stroke="#00ff00" stroke-width="1"/>
<line x1="57" y1="358.5" x2="96" y2="358.5" stroke="#00ff00" stroke-width="1"/>
<rect x="58" y="350" width="3" height="2" fill="#00ff00" stroke="none"/>
<rect x="58" y="361" width="3" height="3" fill="#00ff00" stroke="none"/>
<polyline points="59.5,355 69.5,350.5 95.5,350.5" fill="none" stroke="#00ff00" stroke-width="1"/>
<text x="70" y="348.8" font-size="9.1" fill="#00ff00" textLength="10.5" lengthAdjust="spacingAndGlyphs">1.3</text>
<text x="82.5" y="344.4" font-size="5" fill="#00ff00" textLength="11" lengthAdjust="spacingAndGlyphs" font-weight="bold">+0.2</text>
<text x="82.5" y="349" font-size="5" fill="#00ff00" textLength="7" lengthAdjust="spacingAndGlyphs" font-weight="bold">-0</text>
<line x1="234.5" y1="349.5" x2="234.5" y2="371" stroke="#00ff00" stroke-width="1"/>
<line x1="234.5" y1="349.5" x2="245" y2="349.5" stroke="#00ff00" stroke-width="1"/>
<rect x="233" y="354" width="3" height="2" fill="#00ff00" stroke="none"/>
<rect x="233" y="366" width="3" height="2" fill="#00ff00" stroke="none"/>
<text x="239.3" y="348.8" font-size="9.7" fill="#00ff00">2</text>
<polygon points="261.5,293.5 266.5,293.5 266.5,423.5 261.5,423.5" fill="none" stroke="#ffffff" stroke-width="1"/>
<polyline points="266.5,322.5 375.5,322.5 375.5,359" fill="none" stroke="#ffffff" stroke-width="1"/>
<line x1="305.5" y1="322.5" x2="305.5" y2="359" stroke="#ffffff" stroke-width="1"/>
<polyline points="298.5,395.5 298.5,359.5 412.5,359.5 412.5,395.5" fill="none" stroke="#ffffff" stroke-width="1"/>
<line x1="266.5" y1="392.5" x2="412.5" y2="392.5" stroke="#ffffff" stroke-width="1"/>
<line x1="266.5" y1="395.5" x2="412.5" y2="395.5" stroke="#ffffff" stroke-width="1"/>
<line x1="329" y1="396.5" x2="372" y2="396.5" stroke="#ffffff" stroke-width="1"/>
<polyline points="261.5,325.5 373.5,325.5 373.5,392" fill="none" stroke="#ffff00" stroke-width="1" stroke-dasharray="5 2"/>
<line x1="375.5" y1="359.5" x2="375.5" y2="392" stroke="#ffff00" stroke-width="1" stroke-dasharray="5 2"/>
<line x1="261" y1="358.5" x2="419" y2="358.5" stroke="#ff0000" stroke-width="1" stroke-dasharray="14 2 2 2"/>
<line x1="303.5" y1="354.5" x2="303.5" y2="399.5" stroke="#ff0000" stroke-width="1" stroke-dasharray="10 2 2 2"/>
<line x1="328.5" y1="354.5" x2="328.5" y2="399.5" stroke="#ff0000" stroke-width="1" stroke-dasharray="10 2 2 2"/>
<line x1="372.5" y1="354.5" x2="372.5" y2="399.5" stroke="#ff0000" stroke-width="1" stroke-dasharray="10 2 2 2"/>
<line x1="391.5" y1="354.5" x2="391.5" y2="399.5" stroke="#ff0000" stroke-width="1" stroke-dasharray="10 2 2 2"/>
<line x1="350.5" y1="350" x2="350.5" y2="404.5" stroke="#ff0000" stroke-width="1" stroke-dasharray="10 2 2 2"/>
<line x1="261.5" y1="293" x2="261.5" y2="322" stroke="#00ff00" stroke-width="1"/>
<line x1="261.5" y1="301.5" x2="375.5" y2="301.5" stroke="#00ff00" stroke-width="1"/>
<line x1="375.5" y1="299" x2="375.5" y2="322" stroke="#00ff00" stroke-width="1"/>
<rect x="264" y="300" width="3" height="3" fill="#00ff00" stroke="none"/>
<rect x="370" y="300" width="3" height="3" fill="#00ff00" stroke="none"/>
<text x="307.7" y="299.6" font-size="9.7" fill="#00ff00" textLength="28.8" lengthAdjust="spacingAndGlyphs">(92.6)</text>
<line x1="261.5" y1="311.5" x2="305.5" y2="311.5" stroke="#00ff00" stroke-width="1"/>
<line x1="305.5" y1="308.5" x2="305.5" y2="322" stroke="#00ff00" stroke-width="1"/>
<rect x="264" y="310" width="3" height="3" fill="#00ff00" stroke="none"/>
<rect x="300" y="310" width="3" height="3" fill="#00ff00" stroke="none"/>
<text x="274" y="310.8" font-size="9.7" fill="#00ff00" textLength="20" lengthAdjust="spacingAndGlyphs">35.5</text>
<line x1="412.5" y1="359.5" x2="429" y2="359.5" stroke="#00ff00" stroke-width="1"/>
<line x1="412.5" y1="395.5" x2="429" y2="395.5" stroke="#00ff00" stroke-width="1"/>
<line x1="427.5" y1="359.5" x2="427.5" y2="395.5" stroke="#00ff00" stroke-width="1"/>
<rect x="426" y="362" width="3" height="3" fill="#00ff00" stroke="none"/>
<rect x="426" y="390" width="3" height="3" fill="#00ff00" stroke="none"/>
<text x="0" y="0" transform="translate(425.6,383.5) rotate(-90)" font-size="9.1" fill="#00ff00" textLength="11.1" lengthAdjust="spacingAndGlyphs">29</text>
<line x1="298.5" y1="396" x2="298.5" y2="417.5" stroke="#00ff00" stroke-width="1"/>
<line x1="412.5" y1="396" x2="412.5" y2="417.5" stroke="#00ff00" stroke-width="1"/>
<line x1="298.5" y1="415.5" x2="412.5" y2="415.5" stroke="#00ff00" stroke-width="1"/>
<rect x="301" y="414" width="3" height="3" fill="#00ff00" stroke="none"/>
<rect x="407" y="414" width="3" height="3" fill="#00ff00" stroke="none"/>
<text x="345" y="414.8" font-size="9.1" fill="#00ff00" textLength="11.8" lengthAdjust="spacingAndGlyphs">92</text>
<line x1="398.5" y1="432.5" x2="735.5" y2="432.5" stroke="#ffffff" stroke-width="1"/>
<line x1="398.5" y1="432.5" x2="398.5" y2="523" stroke="#ffffff" stroke-width="1"/>
<line x1="398.5" y1="445.5" x2="548.5" y2="445.5" stroke="#ffffff" stroke-width="1"/>
<line x1="398.5" y1="458.5" x2="548.5" y2="458.5" stroke="#ffffff" stroke-width="1"/>
<line x1="398.5" y1="471.5" x2="548.5" y2="471.5" stroke="#ffffff" stroke-width="1"/>
<line x1="398.5" y1="484.5" x2="548.5" y2="484.5" stroke="#ffffff" stroke-width="1"/>
<line x1="398.5" y1="497.5" x2="634.5" y2="497.5" stroke="#ffffff" stroke-width="1"/>
<line x1="398.5" y1="510.5" x2="634.5" y2="510.5" stroke="#ffffff" stroke-width="1"/>
<line x1="417.5" y1="432.5" x2="417.5" y2="497.5" stroke="#ffffff" stroke-width="1"/>
<line x1="436.5" y1="432.5" x2="436.5" y2="497.5" stroke="#ffffff" stroke-width="1"/>
<line x1="458.5" y1="432.5" x2="458.5" y2="497.5" stroke="#ffffff" stroke-width="1"/>
<line x1="496.5" y1="432.5" x2="496.5" y2="497.5" stroke="#ffffff" stroke-width="1"/>
<line x1="526.5" y1="432.5" x2="526.5" y2="497.5" stroke="#ffffff" stroke-width="1"/>
<line x1="548.5" y1="432.5" x2="548.5" y2="523" stroke="#ffffff" stroke-width="1"/>
<line x1="429.5" y1="497.5" x2="429.5" y2="523" stroke="#ffffff" stroke-width="1"/>
<line x1="470.5" y1="497.5" x2="470.5" y2="523" stroke="#ffffff" stroke-width="1"/>
<line x1="507.5" y1="497.5" x2="507.5" y2="523" stroke="#ffffff" stroke-width="1"/>
<line x1="634.5" y1="432.5" x2="634.5" y2="523" stroke="#ffffff" stroke-width="1"/>
<line x1="548.5" y1="471.5" x2="735.5" y2="471.5" stroke="#ffffff" stroke-width="1"/>
<line x1="548.5" y1="484.5" x2="634.5" y2="484.5" stroke="#ffffff" stroke-width="1"/>
<line x1="597.5" y1="471.5" x2="597.5" y2="497.5" stroke="#ffffff" stroke-width="1"/>
<line x1="616.5" y1="471.5" x2="616.5" y2="497.5" stroke="#ffffff" stroke-width="1"/>
<line x1="560.5" y1="484.5" x2="560.5" y2="497.5" stroke="#ffffff" stroke-width="1"/>
<line x1="573.5" y1="484.5" x2="573.5" y2="497.5" stroke="#ffffff" stroke-width="1"/>
<line x1="585.5" y1="484.5" x2="585.5" y2="497.5" stroke="#ffffff" stroke-width="1"/>
<line x1="634.5" y1="510.5" x2="735.5" y2="510.5" stroke="#ffffff" stroke-width="1"/>
<text x="401.5" y="495.3" font-size="8" fill="#00ff00" textLength="12.5" lengthAdjust="spacingAndGlyphs" font-weight="bold" stroke-width="0.4">标记</text>
<text x="420" y="495.3" font-size="8" fill="#00ff00" textLength="13" lengthAdjust="spacingAndGlyphs" font-weight="bold" stroke-width="0.4">处数</text>
<text x="440.5" y="495.3" font-size="8" fill="#00ff00" textLength="12.5" lengthAdjust="spacingAndGlyphs" font-weight="bold" stroke-width="0.4">分区</text>
<text x="461.8" y="495.3" font-size="8" fill="#00ff00" textLength="30.2" lengthAdjust="spacingAndGlyphs" font-weight="bold" stroke-width="0.4">更改文件号</text>
<text x="505.5" y="495.3" font-size="8" fill="#00ff00" textLength="11.3" lengthAdjust="spacingAndGlyphs" font-weight="bold" stroke-width="0.4">签名</text>
<text x="531.8" y="495.3" font-size="8" fill="#00ff00" textLength="12.0" lengthAdjust="spacingAndGlyphs" font-weight="bold" stroke-width="0.4">日期</text>
<text x="404.8" y="508.4" font-size="8" fill="#00ff00" textLength="7.0" lengthAdjust="spacingAndGlyphs" font-weight="bold" stroke-width="0.4">设</text>
<text x="416.2" y="508.4" font-size="8" fill="#00ff00" textLength="7.0" lengthAdjust="spacingAndGlyphs" font-weight="bold" stroke-width="0.4">计</text>
<text x="481.4" y="508.4" font-size="8" fill="#00ff00" textLength="17.8" lengthAdjust="spacingAndGlyphs" font-weight="bold" stroke-width="0.4">标准化</text>
<text x="404.8" y="521" font-size="8" fill="#00ff00" textLength="7.0" lengthAdjust="spacingAndGlyphs" font-weight="bold" stroke-width="0.4">审</text>
<text x="416.2" y="521" font-size="8" fill="#00ff00" textLength="7.0" lengthAdjust="spacingAndGlyphs" font-weight="bold" stroke-width="0.4">核</text>
<text x="481.4" y="521" font-size="8" fill="#00ff00" textLength="7.0" lengthAdjust="spacingAndGlyphs" font-weight="bold" stroke-width="0.4">批</text>
<text x="493.3" y="521" font-size="8" fill="#00ff00" textLength="7.0" lengthAdjust="spacingAndGlyphs" font-weight="bold" stroke-width="0.4">准</text>
<text x="562" y="482.5" font-size="7.5" fill="#00ff00" textLength="24.6" lengthAdjust="spacingAndGlyphs" font-weight="bold" stroke-width="0.4">阶段标记</text>
<text x="601" y="482.5" font-size="7.5" fill="#00ff00" textLength="11" lengthAdjust="spacingAndGlyphs" font-weight="bold" stroke-width="0.4">比例</text>
<text x="619.8" y="482.5" font-size="7.5" fill="#00ff00" textLength="12.0" lengthAdjust="spacingAndGlyphs" font-weight="bold" stroke-width="0.4">质量</text>
<text x="604" y="495.4" font-size="10.5" fill="#00ff00" textLength="10.8" lengthAdjust="spacingAndGlyphs" font-weight="bold" style="font-family:'Liberation Serif',serif">1:1</text>
<text x="562" y="508.5" font-size="7.5" fill="#00ff00" textLength="6.5" lengthAdjust="spacingAndGlyphs" font-weight="bold" stroke-width="0.4">共</text>
<text x="577" y="508.5" font-size="7.5" fill="#00ff00" textLength="7" lengthAdjust="spacingAndGlyphs" font-weight="bold" stroke-width="0.4">张</text>
<text x="596.5" y="508.5" font-size="7.5" fill="#00ff00" textLength="7.0" lengthAdjust="spacingAndGlyphs" font-weight="bold" stroke-width="0.4">第</text>
<text x="612" y="508.5" font-size="7.5" fill="#00ff00" textLength="7" lengthAdjust="spacingAndGlyphs" font-weight="bold" stroke-width="0.4">张</text>
<text x="570" y="455" font-size="14" fill="#00ff00" textLength="41.5" lengthAdjust="spacingAndGlyphs" font-weight="bold" style="font-family:'Liberation Serif',serif">0Cr18Ni9</text>
<text x="661" y="455.5" font-size="12" fill="#00ff00" textLength="30" lengthAdjust="spacingAndGlyphs" font-weight="bold" stroke-width="0.4">导波口</text>
<text x="662.5" y="496" font-size="15" fill="#00ff00" textLength="69" lengthAdjust="spacingAndGlyphs" font-weight="bold">DZLH1 - 04.01</text>
<text x="666.5" y="528" font-size="9.5" fill="#00ff00" textLength="16.5" lengthAdjust="spacingAndGlyphs" font-weight="bold" stroke-width="0.4">上风</text>
</svg>
</body></html>
